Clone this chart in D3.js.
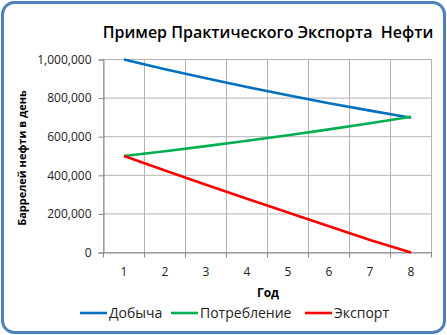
<!DOCTYPE html>
<html><head><meta charset="utf-8">
<script src="https://cdn.jsdelivr.net/npm/d3@7"></script>
<style>html,body{margin:0;padding:0;background:#fff;}svg{display:block;}</style>
</head><body>
<script>
const years = [1, 2, 3, 4, 5, 6, 7, 8];
const production = [1000000, 950000, 902500, 857400, 814500, 773800, 735100, 698300];
const consumption = [500000, 525000, 551300, 578800, 607800, 638100, 670000, 703600];
const exportVals = [500000, 425000, 351300, 278600, 206800, 135600, 65000, 0];
const yTicks = [0, 200000, 400000, 600000, 800000, 1000000];
const seriesNames = ["Добыча", "Потребление", "Экспорт"];
const seriesColors = ["#0070c0", "#00b050", "#ff0000"];
const title = "Пример Практического Экспорта  Нефти";
const xTitle = "Год";
const yTitle = "Баррелей нефти в день";

const W = 447, H = 335;
const font = "Open Sans, Noto Sans, sans-serif";
const svg = d3.select("body").append("svg").attr("width", W).attr("height", H);

svg.append("rect").attr("x", 2.5).attr("y", 2.5).attr("width", W - 5).attr("height", H - 5)
  .attr("rx", 12).attr("fill", "#fff").attr("stroke", "#4f81bd").attr("stroke-width", 3);

const L = 103.5, R = 431.5, T = 59.5, B = 252.5;
const x = d3.scaleBand().domain(years).range([L, R]);
const y = d3.scaleLinear().domain([0, 1000000]).range([B, T]);

// gridlines
const g = svg.append("g");
g.selectAll("line.h").data(yTicks).join("line")
  .attr("x1", L).attr("x2", R).attr("y1", d => y(d)).attr("y2", d => y(d))
  .attr("stroke", "#b3b3b3").attr("stroke-width", 1);
const bounds = years.map(d => x(d)).concat([R]);
g.selectAll("line.v").data(bounds).join("line")
  .attr("x1", d => d).attr("x2", d => d).attr("y1", T).attr("y2", B)
  .attr("stroke", "#b3b3b3").attr("stroke-width", 1);

// y axis
const yAxis = d3.axisLeft(y).tickValues(yTicks).tickSize(5).tickPadding(7)
  .tickFormat(d3.format(","));
const ya = svg.append("g").attr("transform", `translate(${L},0)`).call(yAxis);
ya.select(".domain").attr("stroke", "#888");
ya.selectAll(".tick line").attr("stroke", "#888");
ya.selectAll("text").attr("font-family", font).attr("font-size", 12).attr("fill", "#222");

// x axis
const xa = svg.append("g").attr("transform", `translate(0,${B})`)
  .call(d3.axisBottom(x).tickSize(0).tickPadding(15));
xa.select(".domain").attr("stroke", "#888");
xa.selectAll("text").attr("font-family", font).attr("font-size", 12).attr("fill", "#222");
svg.append("g").selectAll("line").data(bounds).join("line")
  .attr("x1", d => d).attr("x2", d => d).attr("y1", B).attr("y2", B + 5)
  .attr("stroke", "#888");

// lines
const data = [production, consumption, exportVals];
const line = d3.line().x((d, i) => x(years[i]) + x.bandwidth() / 2).y(d => y(d));
svg.append("g").selectAll("path").data(data).join("path")
  .attr("d", line).attr("fill", "none")
  .attr("stroke", (d, i) => seriesColors[i]).attr("stroke-width", 2.6)
  .attr("stroke-linejoin", "round").attr("stroke-linecap", "butt");

// titles
svg.append("text").attr("x", 268).attr("y", 38).attr("text-anchor", "middle")
  .attr("font-family", font).attr("font-size", 16).attr("font-weight", 600).attr("fill", "#000")
  .attr("xml:space", "preserve").style("white-space", "pre").text(title);
svg.append("text").attr("x", 268).attr("y", 297).attr("text-anchor", "middle")
  .attr("font-family", font).attr("font-size", 12).attr("font-weight", 700).text(xTitle);
svg.append("text").attr("transform", "translate(26,158) rotate(-90)").attr("text-anchor", "middle")
  .attr("font-family", font).attr("font-size", 11).attr("font-weight", 700).text(yTitle);

// legend
const legX = [80, 171, 305];
const lg = svg.append("g").selectAll("g").data(seriesNames).join("g")
  .attr("transform", (d, i) => `translate(${legX[i]},313)`);
lg.append("line").attr("x1", 0).attr("x2", 27).attr("stroke", (d, i) => seriesColors[i]).attr("stroke-width", 2.6);
lg.append("text").attr("x", 29).attr("y", 5).attr("font-family", font).attr("font-size", 14)
  .attr("fill", "#222").text(d => d);
</script>
</body></html>
